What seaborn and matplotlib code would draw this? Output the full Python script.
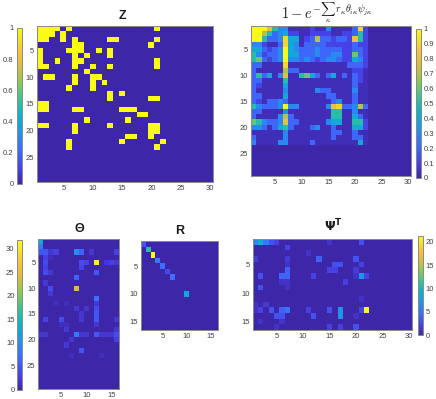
import numpy as np
import matplotlib
matplotlib.use("Agg")
import matplotlib.pyplot as plt
import seaborn as sns
from matplotlib.colors import LinearSegmentedColormap

# ---------------- data ----------------
n_rows, n_cols, n_lat = 29, 30, 16

# Z: columns (1-based) that are 1 in each row
z_ones = [
    [1, 2, 3, 4, 6, 21],
    [1, 2, 3, 5],
    [1, 2, 5, 7, 13, 14, 21],
    [7, 8, 20],
    [1, 6, 7, 8, 11, 13],
    [1, 7, 9, 13],
    [1, 4, 7, 8, 21],
    [1, 2, 7, 10, 13, 21],
    [9],
    [2, 3, 7, 10, 11],
    [7, 10, 12],
    [6, 10],
    [13, 15],
    [13, 20, 21],
    [1, 2],
    [1, 2, 7, 8, 15, 16, 17],
    [18, 19],
    [9, 16],
    [1, 2, 7, 13, 20, 21],
    [7, 20, 21],
    [16, 17, 20],
    [6, 15, 22],
    [6, 21],
    [], [], [], [], [], [],
]

# 1 - exp(-sum r theta psi): tenths, T = 1.0, '-' = faint (~0.03)
p_rows = [
    "TTT85 33--- -1--3 ----2 91000 00000",
    "TT752 3411- -1111 --112 51000 00000",
    "TT522 3944- 12722 12218 51000 00000",
    "331-- 2943- 22221 11112 11000 00000",
    "44212 3T432 22322 22112 21000 00000",
    "53122 3T442 22322 33116 21000 00000",
    "56212 3T332 32123 32114 31000 00000",
    "22--- -9--- ----- ---22 21000 00000",
    "2---- -722- ----- ----1 1-000 00000",
    "2524- 38--5 642-2 4-2-2 1-000 00000",
    "22--- -5--- ----- ----2 1-000 00000",
    "21--- -4--- ----- ----2 --000 00000",
    "2---- -3--- --322 ----3 --000 00000",
    "22--- -4--- ----2 2---2 --000 00000",
    "21-22 32--- ----- 23--2 --000 00000",
    "53222 3T33- ----3 89223 72000 00000",
    "22--- -3--- ----- 55--3 --000 00000",
    "2---- 372-- ----- 55--4 2-000 00000",
    "65322 3822- ----3 44--5 51000 00000",
    "332-2 452-- -23-- 2---4 41000 00000",
    "----- -3--- ----- 22--2 --000 00000",
    "2---- -3--- ----- 2---2 2-000 00000",
    "3---- 33--- -2--- ----- 4-000 00000",
    "00000 00000 00000 00000 00000 00000",
    "00000 00000 00000 00000 00000 00000",
    "00000 00000 00000 00000 00000 00000",
    "00000 00000 00000 00000 00000 00000",
    "00000 00000 00000 00000 00000 00000",
    "00000 00000 00000 00000 00000 00000",
]

# Theta (29 x 16): (row, col, value), 1-based
theta_cells = [
    (1, 1, 13), (2, 1, 8),
    (3, 1, 5), (3, 2, 5), (3, 3, 2), (3, 4, 3), (3, 8, 10), (3, 9, 6), (3, 11, 2), (3, 16, 3),
    (4, 2, 3), (4, 3, 1),
    (5, 2, 4), (5, 9, 4), (5, 10, 3), (5, 12, 31), (5, 14, 2), (5, 15, 3), (5, 16, 2),
    (6, 2, 3), (6, 9, 3),
    (7, 2, 4), (7, 3, 2), (7, 12, 5),
    (8, 8, 6), (9, 2, 2),
    (10, 3, 4), (10, 8, 24), (11, 3, 2), (12, 12, 7),
    (13, 4, 1), (13, 6, 1), (13, 12, 2),
    (14, 8, 2), (14, 10, 2), (14, 12, 4),
    (15, 9, 2), (15, 12, 5),
    (16, 2, 3), (16, 5, 4), (16, 9, 2), (16, 12, 5), (16, 16, 2),
    (17, 5, 1), (17, 6, 1), (17, 12, 2),
    (18, 6, 2), (18, 16, 2),
    (19, 1, 2), (19, 2, 2), (19, 8, 8), (19, 9, 2), (19, 10, 2), (19, 12, 5),
    (19, 13, 2), (19, 14, 2), (19, 15, 2), (19, 16, 4),
    (20, 7, 2), (20, 16, 3), (21, 6, 2), (22, 9, 5), (23, 7, 1), (23, 13, 1),
]
theta_max = 31.9

# R: diagonal weights (relative)
r_diag = [0.15, 0.5, 1.0, 0.25, 0.22, 0.12, 0.22, 0, 0, 0.4, 0, 0, 0, 0, 0, 0]

# Psi^T (16 x 30): (row, col, value), 1-based
psi_cells = [
    (1, 1, 6), (1, 2, 9), (1, 3, 5), (1, 4, 3), (1, 5, 2), (1, 15, 1), (1, 21, 3),
    (2, 7, 2), (3, 11, 1),
    (4, 1, 1.5), (4, 7, 1.5), (4, 13, 4), (4, 20, 3),
    (5, 7, 1), (5, 16, 3), (5, 17, 3), (5, 21, 2),
    (6, 7, 4), (6, 15, 2), (6, 16, 2), (6, 20, 1.5),
    (7, 2, 3), (7, 6, 4), (7, 7, 4), (7, 12, 2), (7, 20, 1), (7, 21, 7), (7, 22, 2),
    (8, 6, 1), (8, 7, 1), (8, 18, 2),
    (9, 2, 3), (9, 7, 1), (11, 21, 1),
    (12, 1, 1), (12, 3, 1.5),
    (13, 1, 1), (13, 2, 2), (13, 4, 3), (13, 6, 4), (13, 7, 5), (13, 11, 2),
    (13, 15, 3), (13, 17, 7), (13, 21, 2), (13, 22, 21),
    (14, 5, 3), (14, 6, 3), (14, 12, 3), (14, 17, 7), (14, 20, 1),
    (15, 2, 1), (15, 6, 1),
    (16, 5, 1), (16, 15, 2), (16, 17, 2), (16, 20, 3),
]
psi_max = 21.2

# ---------------- build matrices ----------------
z = np.zeros((n_rows, n_cols))
for r, cols in enumerate(z_ones):
    for c in cols:
        z[r, c - 1] = 1


def level(ch):
    if ch == "T":
        return 1.0
    if ch == "-":
        return 0.03
    return int(ch) / 10


p = np.array([[level(ch) for ch in row.replace(" ", "")] for row in p_rows])

theta = np.zeros((n_rows, n_lat))
for r, c, v in theta_cells:
    theta[r - 1, c - 1] = v

rmat = np.diag(r_diag)

psi = np.zeros((n_lat, n_cols))
for r, c, v in psi_cells:
    psi[r - 1, c - 1] = v

# MATLAB parula approximation
parula = LinearSegmentedColormap.from_list("parula", [
    (0.00, (0.2422, 0.1504, 0.6603)),
    (0.10, (0.2788, 0.2598, 0.9035)),
    (0.23, (0.2311, 0.4497, 0.9995)),
    (0.35, (0.1000, 0.6100, 0.9000)),
    (0.45, (0.0500, 0.7100, 0.7700)),
    (0.55, (0.2400, 0.7700, 0.5600)),
    (0.65, (0.5500, 0.7900, 0.3300)),
    (0.75, (0.8500, 0.7400, 0.2300)),
    (0.85, (0.9900, 0.7500, 0.2400)),
    (0.93, (0.9600, 0.8900, 0.1300)),
    (1.00, (0.9769, 0.9839, 0.0805)),
])

# ---------------- layout ----------------
sns.set_style("white")
plt.rcParams["font.family"] = ["Liberation Sans", "DejaVu Sans"]

W, H = 436, 399
fig = plt.figure(figsize=(W / 100, H / 100), dpi=100)


def box(x0, y0, x1, y1):
    return fig.add_axes([x0 / W, 1 - y1 / H, (x1 - x0) / W, (y1 - y0) / H])


TICK = "#404040"
EDGE = "#8a8a8a"


def panel(data, ax, cax, vmax, xt, yt, cticks=None, clabels=None, cside="right"):
    sns.heatmap(data, ax=ax, cmap=parula, vmin=0, vmax=vmax,
                cbar=cax is not None, cbar_ax=cax,
                xticklabels=False, yticklabels=False)
    ax.set_xticks(np.array(xt) - 0.5)
    ax.set_xticklabels([str(t) for t in xt])
    ax.set_yticks(np.array(yt) - 0.5)
    ax.set_yticklabels([str(t) for t in yt])
    ax.tick_params(direction="in", length=2, width=0.5, top=True, right=True,
                   labelsize=5.5, color=TICK, labelcolor=TICK, pad=2)
    for sp in ax.spines.values():
        sp.set_visible(True)
        sp.set_linewidth(0.7)
        sp.set_color(EDGE)
    if cax is not None:
        cb = ax.collections[0].colorbar
        cb.outline.set_linewidth(0.7)
        cb.outline.set_edgecolor(EDGE)
        cb.set_ticks(cticks)
        cb.set_ticklabels(clabels)
        cax.tick_params(direction="in", length=2, width=0.5, labelsize=5.5,
                        color=TICK, labelcolor=TICK, pad=2)
        cax.yaxis.set_ticks_position(cside)
        cax.yaxis.set_label_position(cside)


# Z
ax_z = box(37, 26, 213, 182)
cax_z = box(16.5, 28, 21.5, 184)
panel(z, ax_z, cax_z, 1, [5, 10, 15, 20, 25, 30], [5, 10, 15, 20, 25],
      [0, 0.2, 0.4, 0.6, 0.8, 1], ["0", "0.2", "0.4", "0.6", "0.8", "1"], "left")

# 1 - exp(...)
ax_p = box(251, 26, 411, 176.5)
cax_p = box(416, 28.5, 421, 178)
panel(p, ax_p, cax_p, 1, [5, 10, 15, 20, 25, 30], [5, 10, 15, 20, 25],
      [i / 10 for i in range(11)],
      ["0"] + [f"0.{i}" for i in range(1, 10)] + ["1"], "right")

# Theta
ax_t = box(38.3, 239, 119.3, 389)
cax_t = box(17.3, 240, 22.3, 390)
panel(theta, ax_t, cax_t, theta_max, [5, 10, 15], [5, 10, 15, 20, 25],
      [0, 5, 10, 15, 20, 25, 30], ["0", "5", "10", "15", "20", "25", "30"], "left")

# R
ax_r = box(141, 241, 218.3, 330)
panel(rmat, ax_r, None, 1, [5, 10, 15], [5, 10, 15])

# Psi^T
ax_s = box(252.7, 239, 411.7, 330)
cax_s = box(418.3, 236, 422.7, 335.3)
panel(psi, ax_s, cax_s, psi_max, [5, 10, 15, 20, 25, 30], [5, 10, 15],
      [0, 5, 10, 15, 20], ["0", "5", "10", "15", "20"], "right")

# titles
def title(x, y, s, **kw):
    fig.text(x / W, 1 - y / H, s, ha="center", va="center", **kw)


title(122.5, 16, "Z", fontsize=9, fontweight="bold", color="#1a1a1a")
title(327, 13, r"$1-e^{-\sum_{\kappa}\, r_{\kappa}\theta_{i\kappa}\psi_{j\kappa}}$",
      fontsize=10.5, math_fontfamily="cm", color="#1a1a1a")
title(79, 229, "Θ", fontsize=9, fontweight="bold", color="#1a1a1a")
title(180, 231, "R", fontsize=9, fontweight="bold", color="#1a1a1a")
title(333, 226, r"$\mathbf{\Psi}^{\mathbf{T}}$", fontsize=9, color="#1a1a1a",
      math_fontfamily="dejavusans")

fig.savefig("out.png", dpi=100)
